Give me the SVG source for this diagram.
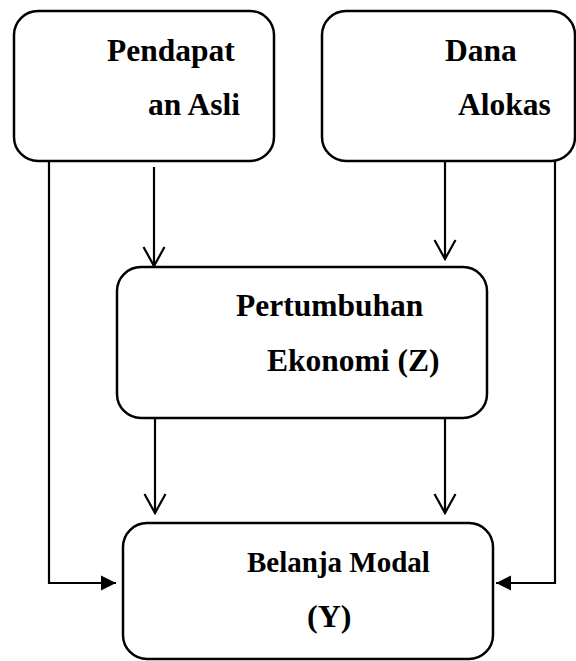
<svg xmlns="http://www.w3.org/2000/svg" width="576" height="661" viewBox="0 0 576 661">
<style>
.box{fill:#fff;stroke:#000;stroke-width:2.5}
.t{font-family:"Liberation Serif","Times New Roman",serif;font-weight:bold;font-size:31.5px;fill:#000}
.ln{fill:none;stroke:#000;stroke-width:2.2}
</style>
<defs>
<marker id="open" viewBox="0 0 22 24" refX="20" refY="12" markerWidth="22" markerHeight="24" markerUnits="userSpaceOnUse" orient="auto">
<path d="M1,1.5 L20,12 L1,22.5" fill="none" stroke="#000" stroke-width="2.2"/>
</marker>
<marker id="solid" viewBox="0 0 16 16" refX="15" refY="8" markerWidth="16" markerHeight="16" markerUnits="userSpaceOnUse" orient="auto">
<path d="M0,0.5 L15,8 L0,15.5 Z" fill="#000"/>
</marker>
</defs>
<rect width="576" height="661" fill="#fff"/>
<g id="connectors">
<path class="ln" d="M154,167 V266" style="marker-end:url(#open)"/>
<path class="ln" d="M445,161 V259" style="marker-end:url(#open)"/>
<path class="ln" d="M155,418 V513" style="marker-end:url(#open)"/>
<path class="ln" d="M445,418 V513" style="marker-end:url(#open)"/>
<path class="ln" d="M49,161 V583 H116" style="marker-end:url(#solid)"/>
<path class="ln" d="M555,161 V583 H496" style="marker-end:url(#solid)"/>
</g>
<g id="pad">
<rect class="box" x="14" y="11" width="260" height="150" rx="24"/>
<text class="t" x="107" y="61">Pendapat</text>
<text class="t" x="148" y="115">an Asli</text>
</g>
<g id="dana">
<rect class="box" x="322" y="11" width="253" height="150" rx="24"/>
<text class="t" x="445" y="61">Dana</text>
<text class="t" x="458" y="115">Alokas</text>
</g>
<g id="pertumbuhan">
<rect class="box" x="117" y="267" width="370" height="151" rx="24"/>
<text class="t" x="236" y="316">Pertumbuhan</text>
<text class="t" x="267" y="371">Ekonomi (Z)</text>
</g>
<g id="belanja">
<rect class="box" x="123" y="523" width="370" height="136" rx="24"/>
<text class="t" x="247" y="572" style="font-size:29px">Belanja Modal</text>
<text class="t" x="307" y="627" style="font-size:32px">(Y)</text>
</g>
</svg>
